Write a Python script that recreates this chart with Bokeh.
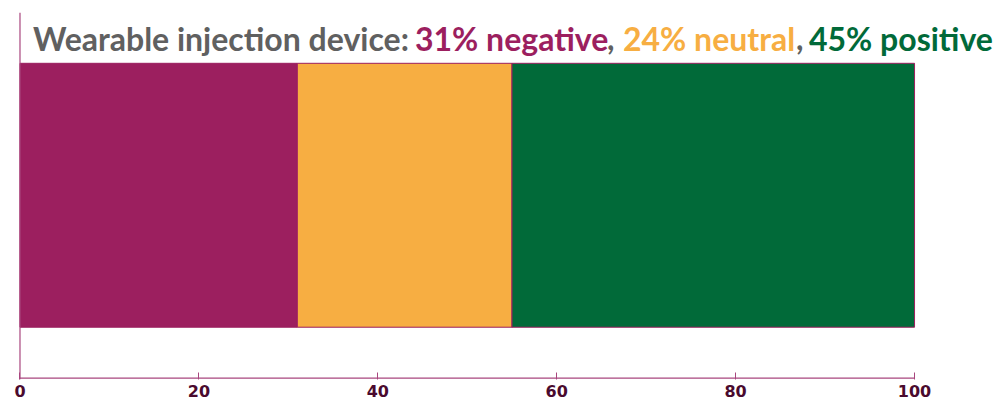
from bokeh.plotting import figure
from bokeh.models import ColumnDataSource, Range1d, Span, Label, FixedTicker
from bokeh.embed import file_html
from bokeh.resources import INLINE

categories = ["negative", "neutral", "positive"]
values = [31, 24, 45]
colors = ["#9C1F5F", "#F7AE42", "#016A39"]
title_main = "Wearable injection device: "
ticks = [0, 20, 40, 60, 80, 100]

lefts, rights = [], []
acc = 0
for v in values:
    lefts.append(acc)
    acc += v
    rights.append(acc)

src = ColumnDataSource(dict(cat=categories, left=lefts, right=rights, color=colors,
                            y=[0.5] * 3))

px_per_unit = 8.95
p = figure(width=996, height=399, output_backend="svg", toolbar_location=None,
           x_range=Range1d(-19.5 / px_per_unit, 100 + 82 / px_per_unit),
           y_range=Range1d(-0.004, 1),
           min_border_left=0, min_border_right=0, min_border_top=12, min_border_bottom=19)
p.outline_line_color = None
p.grid.visible = False
p.yaxis.visible = False
p.background_fill_color = "white"
p.border_fill_color = "white"

axis_col = "#A8467E"

p.hbar(y="y", left="left", right="right", height=0.722, fill_color="color",
       line_color="#9C1F5F", line_width=1, source=src)

p.add_layout(Span(location=ticks[0], dimension="height", line_color=axis_col, line_width=1.2))
p.segment(x0=[ticks[0]], x1=[ticks[-1]], y0=[0], y1=[0], line_color=axis_col, line_width=1.2)

ax = p.xaxis[0]
ax.ticker = FixedTicker(ticks=ticks)
ax.axis_line_color = None
ax.major_tick_line_color = axis_col
ax.major_tick_in = 7
ax.major_tick_out = 0
ax.minor_tick_line_color = None
ax.major_label_text_font = "DejaVu Sans"
ax.major_label_text_font_style = "bold"
ax.major_label_text_font_size = "16px"
ax.major_label_text_color = "#4A0A2E"
ax.major_label_standoff = 5

# multi-coloured title
pieces = [
    (title_main, "#606060", 13),
    ("31% negative", colors[0], 395),
    (",", "#606060", 587),
    ("24% neutral", colors[1], 603),
    (",", "#606060", 776),
    ("45% positive", colors[2], 789),
]
for txt, col, off in pieces:
    p.add_layout(Label(x=0, y=0.929, x_offset=off, text=txt,
                       text_font="Lato", text_font_style="bold", text_font_size="32px",
                       text_color=col, text_baseline="alphabetic"))

open("out.html", "w").write(file_html(p, INLINE))
